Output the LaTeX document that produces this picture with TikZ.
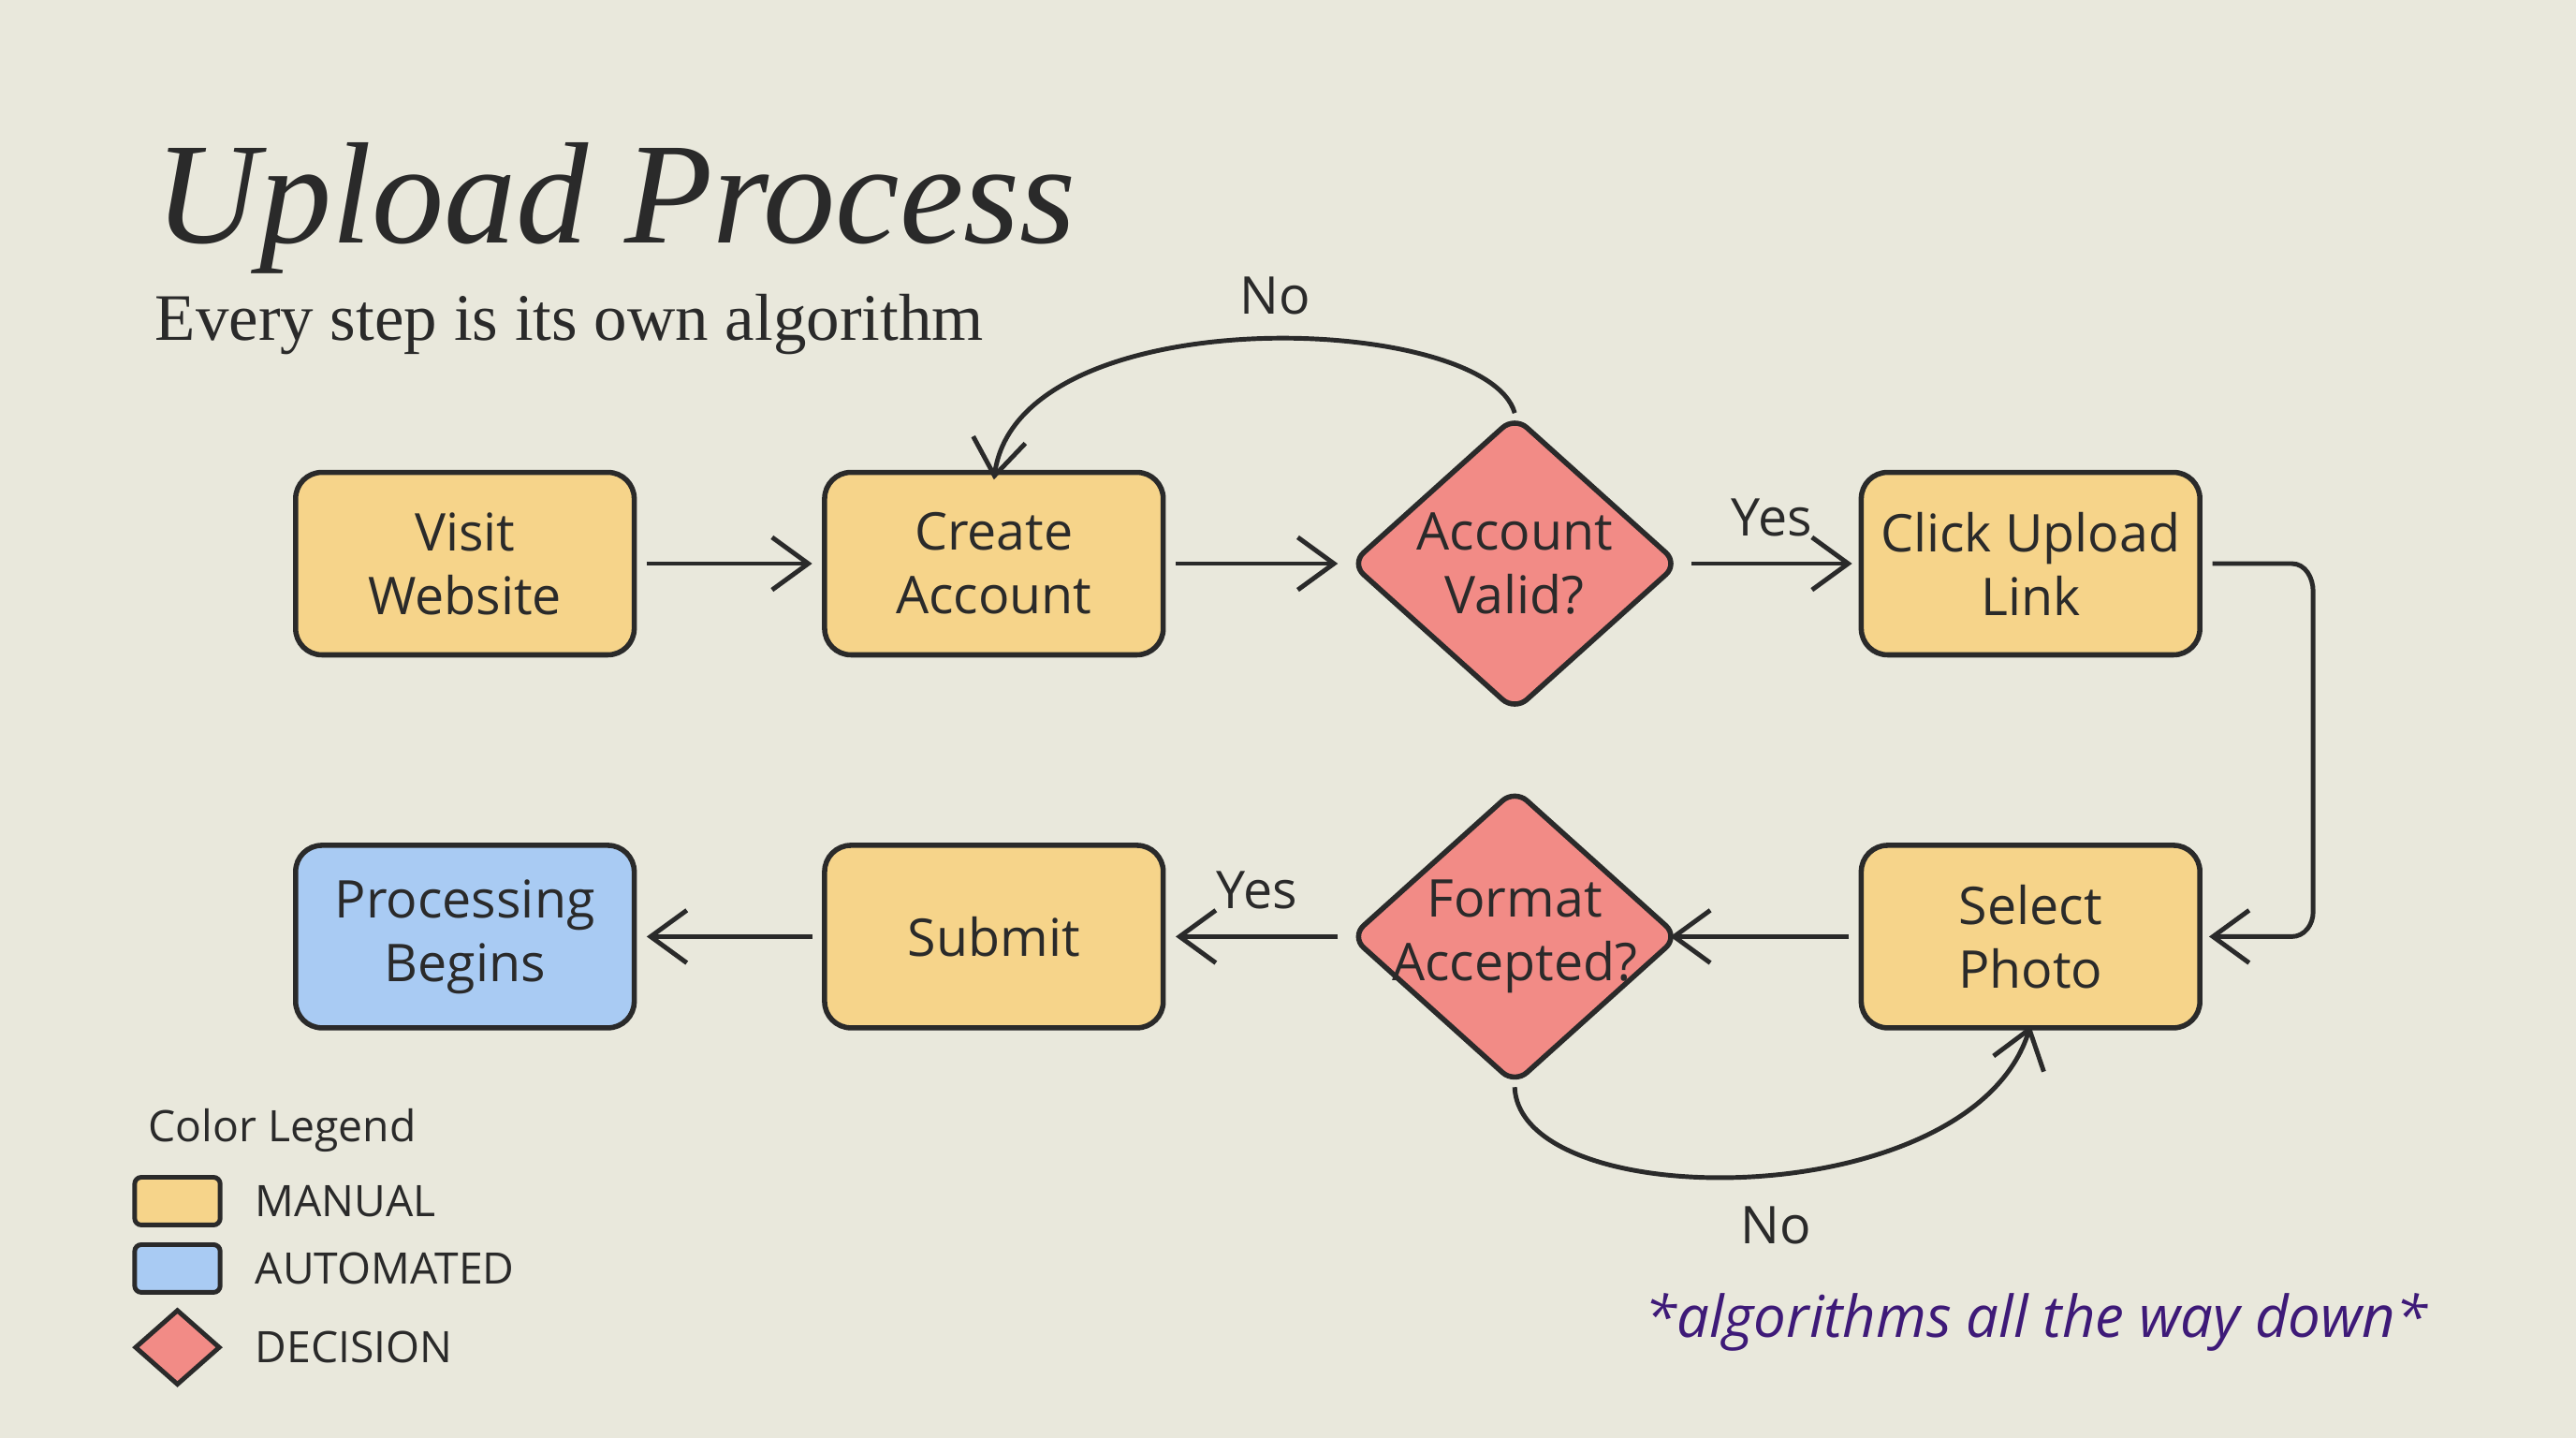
\documentclass[tikz,border=0pt]{standalone}
\usepackage{fontspec}
\setmainfont{Liberation Serif}
\newfontfamily\sansf{Open Sans}
\usetikzlibrary{shapes.geometric,arrows.meta}
\definecolor{bg}{HTML}{E9E8DC}
\definecolor{man}{HTML}{F6D48A}
\definecolor{aut}{HTML}{A9CBF3}
\definecolor{dec}{HTML}{F28B86}
\definecolor{ink}{HTML}{2A2A2A}
\definecolor{purp}{HTML}{3E1A78}
\begin{document}
\begin{tikzpicture}[x=0.01cm,y=-0.01cm,
  box/.style={draw=ink,line width=0.9pt,rounded corners=0.16cm,minimum width=2.06cm,minimum height=1.11cm,align=center,font=\sansf\fontsize{9}{11}\selectfont,text=ink},
  dia/.style={diamond,draw=ink,fill=dec,line width=0.9pt,rounded corners=0.1cm,minimum width=2.0cm,minimum height=1.8cm,inner sep=0pt},
  dt/.style={align=center,font=\sansf\fontsize{9}{11}\selectfont,text=ink},
  arr/.style={draw=ink,line width=0.8pt,-{Straight Barb[length=2.2mm,width=3.2mm]}},
  lab/.style={font=\sansf\fontsize{9}{11}\selectfont,text=ink},
  leg/.style={font=\sansf\fontsize{7.5}{9}\selectfont,text=ink,anchor=west}]
\fill[bg] (0,0) rectangle (1568,875);
\useasboundingbox (0,0) rectangle (1568,875);
\node[anchor=base west,font=\itshape\fontsize{25}{30}\selectfont,text=ink] (title) at (82,148) {Upload Process};
\node[anchor=base west,font=\fontsize{11.5}{14}\selectfont,text=ink] (sub) at (82,207) {Every step is its own algorithm};

\node[box,fill=man] (visit) at (283,343) {Visit\\Website};
\node[box,fill=man] (create) at (605,343) {Create\\Account};
\node[dia] (valid) at (922,343) {};
\node[dt] (validt) at (922,343) {Account\\Valid?};
\node[box,fill=man] (click) at (1236,343) {Click Upload\\Link};
\node[box,fill=man] (select) at (1236,570) {Select\\Photo};
\node[dia] (format) at (922,570) {};
\node[dt] (formatt) at (922,570) {Format\\Accepted?};
\node[box,fill=man] (submit) at (605,570) {Submit};
\node[box,fill=aut] (proc) at (283,570) {Processing\\Begins};

\draw[arr] ([xshift=0.06cm]visit.east) -- ([xshift=-0.06cm]create.west);
\draw[arr] ([xshift=0.06cm]create.east) -- ([xshift=-0.06cm]valid.east-|valid.west);
\draw[arr] ([xshift=0.06cm]valid.east) -- node[lab,above,yshift=1pt] (yes1) {Yes} ([xshift=-0.04cm]click.west);
\draw[arr] ([xshift=0.06cm]click.east) -- (1395,343) to[out=0,in=90] (1408,360) -- (1408,555) to[out=-90,in=0] (1395,570) -- ([xshift=0.04cm]select.east);
\draw[arr] ([xshift=-0.06cm]select.west) -- ([xshift=-0.07cm]format.east);
\draw[arr] ([xshift=-0.06cm]format.west) -- node[lab,above,yshift=1pt] (yes2) {Yes} ([xshift=0.06cm]submit.east);
\draw[arr] ([xshift=-0.06cm]submit.west) -- ([xshift=0.06cm]proc.east);
\draw[arr] (valid.north) .. controls (905,190) and (620,180) .. ([yshift=-0.06cm]create.north);
\node[lab] (no1) at (776,180) {No};
\draw[arr] (format.south) .. controls (925,740) and (1200,740) .. ([yshift=0.03cm]select.south);
\node[lab] (no2) at (1081,746) {No};

\node[leg] (lt) at (78,688) {Color Legend};
\node[draw=ink,fill=man,line width=0.8pt,rounded corners=0.04cm,minimum width=0.52cm,minimum height=0.29cm,inner sep=0] (s1) at (108,731) {};
\node[leg] (l1) at (143,731) {MANUAL};
\node[draw=ink,fill=aut,line width=0.8pt,rounded corners=0.04cm,minimum width=0.52cm,minimum height=0.29cm,inner sep=0] (s2) at (108,772) {};
\node[leg] (l2) at (143,772) {AUTOMATED};
\node[diamond,draw=ink,fill=dec,line width=0.8pt,minimum width=0.52cm,minimum height=0.46cm,inner sep=0] (s3) at (108,820) {};
\node[leg] (l3) at (143,820) {DECISION};
\node[anchor=east,font=\sansf\itshape\fontsize{10}{12}\selectfont,text=purp] (foot) at (1490,805) {*algorithms all the way down*};
\end{tikzpicture}
\end{document}
